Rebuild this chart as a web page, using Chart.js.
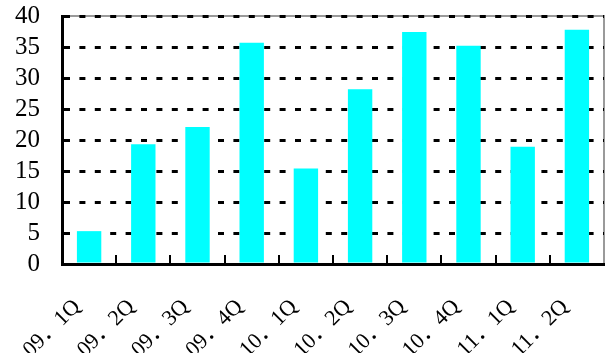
<!DOCTYPE html>
<html>
<head>
<meta charset="utf-8">
<script src="https://cdn.jsdelivr.net/npm/chart.js@4/dist/chart.umd.min.js"></script>
<style>
  html, body { margin: 0; padding: 0; background: #fff; }
  #wrap { width: 609px; height: 353px; position: relative; }
</style>
</head>
<body>
<div id="wrap"><canvas id="c" width="609" height="353"></canvas></div>
<script>
// Quarterly figures
const quarters = ["09．1Q", "09．2Q", "09．3Q", "09．4Q", "10．1Q", "10．2Q", "10．3Q", "10．4Q", "11．1Q", "11．2Q"];
const values = [5.3, 19.3, 22.1, 35.7, 15.4, 28.2, 37.4, 35.2, 18.9, 37.8];
const yMin = 0;
const yMax = 40;
const yStep = 5;

// Grey frame on the top and right of the plot area, under the grid
const framePlugin = {
  id: 'frame',
  beforeDraw(chart) {
    const { ctx, chartArea: a } = chart;
    ctx.save();
    ctx.strokeStyle = '#9a9a9a';
    ctx.lineWidth = 2;
    ctx.beginPath();
    ctx.moveTo(a.left, a.top);
    ctx.lineTo(a.right, a.top);
    ctx.lineTo(a.right, a.bottom);
    ctx.stroke();
    ctx.restore();
  }
};

// Short inward tick marks at the category boundaries
const innerTicks = {
  id: 'innerTicks',
  afterDatasetsDraw(chart) {
    const { ctx, scales: { x }, chartArea: a } = chart;
    const half = (x.getPixelForValue(1) - x.getPixelForValue(0)) / 2;
    ctx.save();
    ctx.strokeStyle = '#000';
    ctx.lineWidth = 2;
    ctx.beginPath();
    for (let i = 1; i < quarters.length; i++) {
      const px = Math.round(x.getPixelForValue(i) - half);
      ctx.moveTo(px, a.bottom);
      ctx.lineTo(px, a.bottom - 9);
    }
    ctx.stroke();
    ctx.restore();
  }
};

function noOverflow(scale) {
  scale.paddingTop = 0;
  scale.paddingBottom = 0;
  scale.paddingLeft = 0;
  scale.paddingRight = 0;
}

new Chart(document.getElementById('c'), {
  type: 'bar',
  data: {
    labels: quarters,
    datasets: [{
      data: values,
      backgroundColor: '#00ffff',
      borderWidth: 0,
      categoryPercentage: 1,
      barPercentage: 0.45
    }]
  },
  options: {
    responsive: false,
    animation: false,
    layout: { padding: { left: 0, right: 5, top: 16, bottom: 0 } },
    plugins: { legend: { display: false }, tooltip: { enabled: false } },
    scales: {
      x: {
        offset: true,
        grid: { display: false, drawTicks: false },
        border: { display: true, color: '#000', width: 3 },
        ticks: {
          color: '#000',
          font: { family: "'Liberation Serif', 'Noto Sans CJK SC', serif", size: 22 },
          minRotation: 45,
          maxRotation: 45,
          padding: 30,
          labelOffset: -12,
          autoSkip: false
        },
        afterFit(scale) { scale.height = 89; noOverflow(scale); }
      },
      y: {
        min: yMin,
        max: yMax,
        grid: {
          color: '#000',
          lineWidth: 3,
          drawTicks: false
        },
        border: { display: true, color: '#000', width: 3, dash: [6, 9.4] },
        ticks: {
          stepSize: yStep,
          autoSkip: false,
          color: '#000',
          padding: 22,
          font: { family: "'Liberation Serif', serif", size: 25 }
        },
        afterFit(scale) { scale.width = 62; noOverflow(scale); }
      }
    }
  },
  plugins: [framePlugin, innerTicks]
});
</script>
</body>
</html>
